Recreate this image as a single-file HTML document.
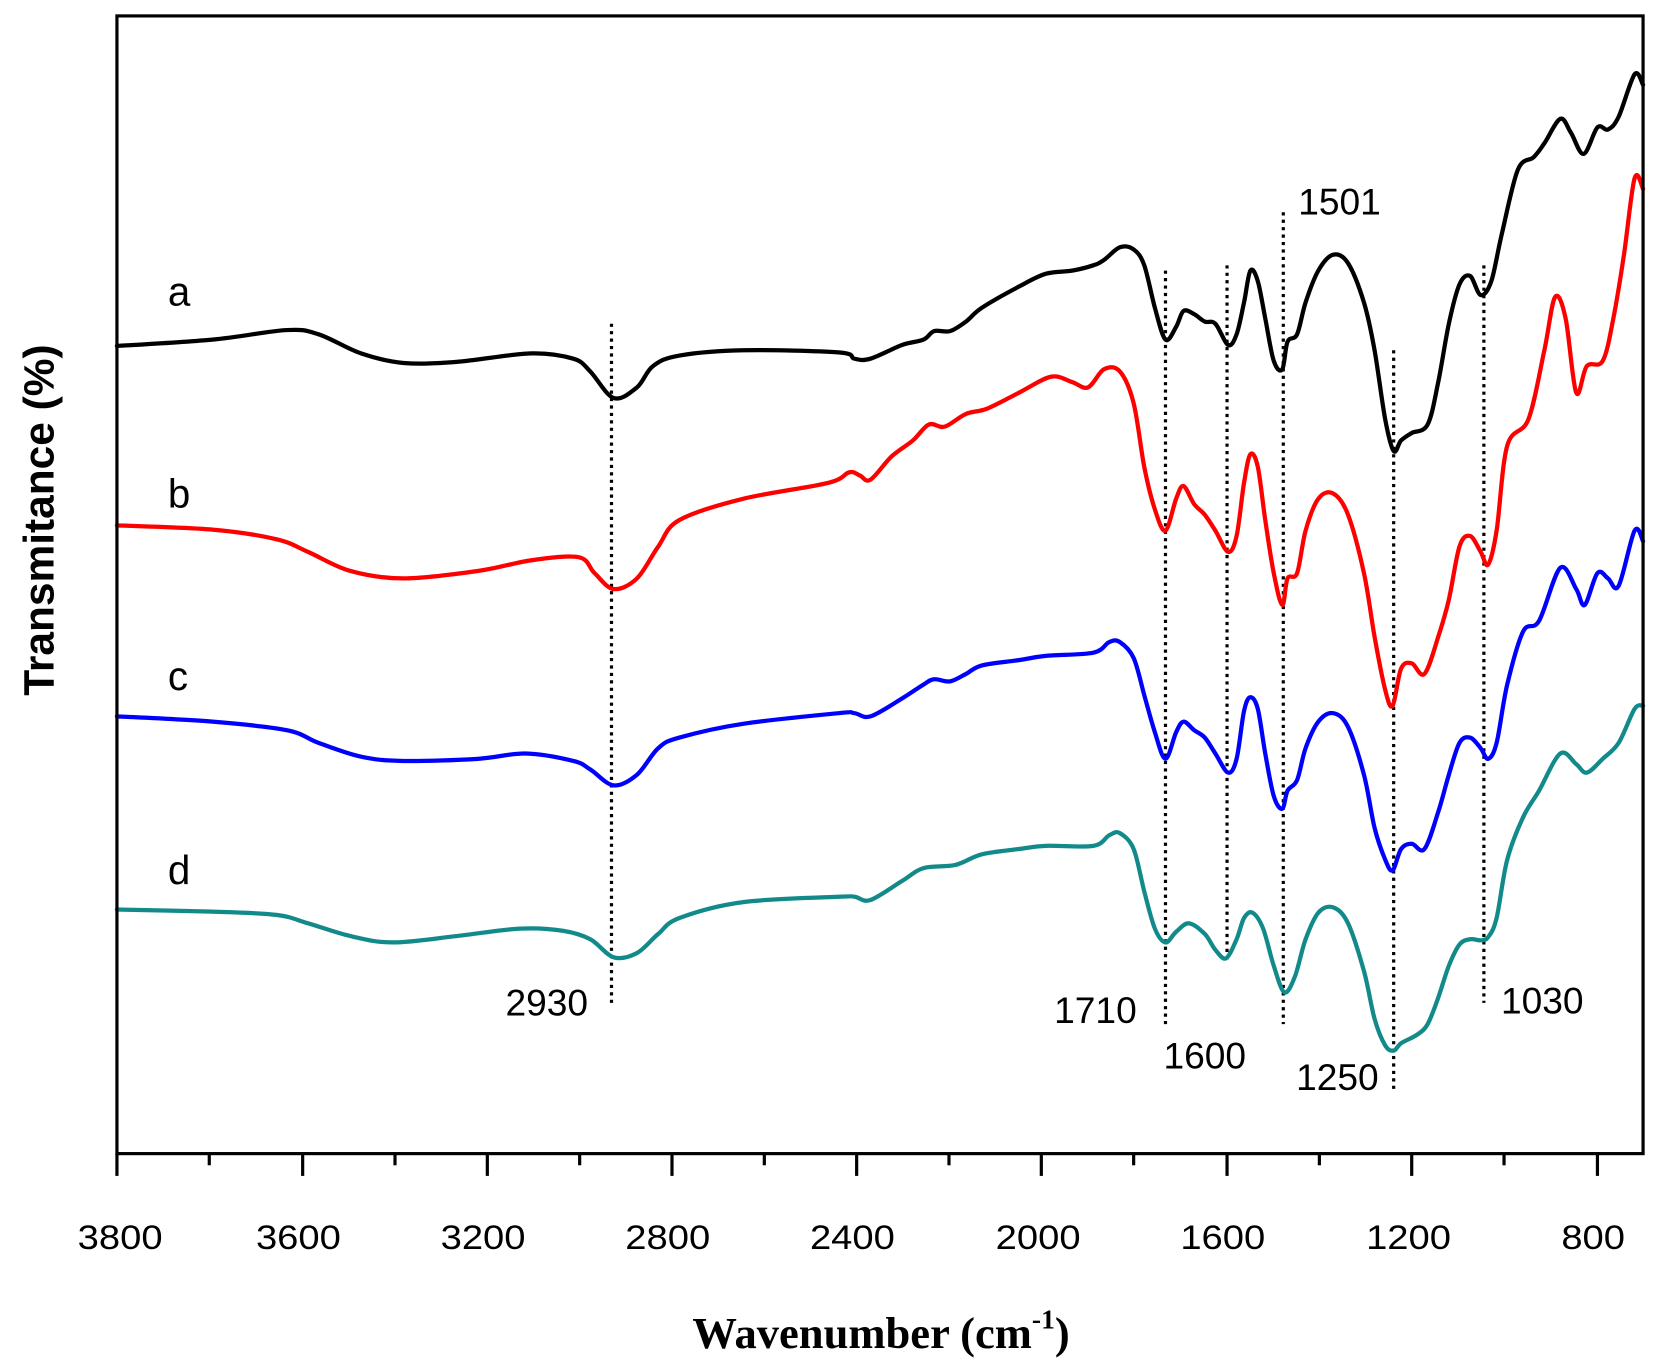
<!DOCTYPE html>
<html><head><meta charset="utf-8"><style>
html,body{margin:0;padding:0;background:#fff;}
svg{display:block;}
</style></head><body>
<svg id="s" width="1656" height="1368" viewBox="0 0 1560 1289" xmlns="http://www.w3.org/2000/svg">
<rect width="1560" height="1289" fill="#fff"/>
<g stroke="#000" stroke-width="3" stroke-dasharray="3,4" fill="none">
<line x1="576" y1="305" x2="576" y2="948"/>
<line x1="1098" y1="255" x2="1098" y2="965"/>
<line x1="1156" y1="250" x2="1156" y2="905"/>
<line x1="1209" y1="200" x2="1209" y2="965"/>
<line x1="1313" y1="330" x2="1313" y2="1028"/>
<line x1="1398" y1="250" x2="1398" y2="945"/>
</g>
<g fill="none" stroke-width="4" stroke-linejoin="round" stroke-linecap="round">
<polyline class="c" stroke="#000" points="110,326 200,320 270,311 300,315 340,333 380,342 430,341 500,333 540,338 556,350 578,375 600,365 615,345 640,335 700,330 790,332 805,338 820,338 850,325 870,320 880,312 895,312 910,303 925,290 960,270 985,258 1010,255 1030,250 1040,245 1055,233 1068,235 1078,250 1088,290 1098,320 1108,308 1115,293 1125,296 1135,303 1145,305 1157,325 1165,315 1172,285 1178,255 1185,265 1192,300 1200,340 1208,348 1213,322 1222,315 1230,285 1242,255 1256,240 1270,248 1285,285 1295,330 1305,395 1313,425 1320,415 1330,408 1345,400 1355,360 1365,305 1375,268 1385,260 1395,278 1405,265 1415,220 1430,160 1445,148 1455,135 1470,112 1480,125 1492,145 1505,120 1515,122 1525,110 1540,70 1548,80"/>
<polyline class="c" stroke="#ff0000" points="110,495 200,499 260,508 290,520 330,538 380,545 450,538 500,528 545,525 560,540 578,555 600,545 620,515 640,490 700,470 780,455 800,445 810,448 820,452 840,430 860,415 875,400 890,402 910,390 930,385 960,370 990,355 1010,360 1025,365 1040,348 1055,350 1068,380 1078,440 1088,480 1098,500 1108,470 1115,458 1125,475 1135,485 1145,500 1157,520 1165,505 1172,455 1178,428 1185,440 1192,490 1200,540 1208,570 1213,545 1222,540 1230,500 1242,470 1256,465 1270,485 1285,540 1295,600 1305,650 1312,665 1320,630 1330,625 1342,635 1355,600 1365,565 1375,515 1385,505 1395,520 1402,532 1410,500 1420,420 1440,395 1455,330 1465,280 1475,300 1485,370 1495,345 1510,340 1520,300 1530,240 1540,168 1548,178"/>
<polyline class="c" stroke="#0000ff" points="110,675 200,680 270,688 300,700 340,713 380,717 450,715 495,710 540,717 556,725 578,740 600,730 620,705 640,695 700,682 790,672 805,672 820,675 850,658 870,645 880,640 895,642 910,635 925,627 960,622 985,618 1030,615 1045,605 1055,605 1068,620 1078,655 1088,690 1098,715 1108,690 1115,680 1125,688 1135,695 1145,710 1157,728 1165,715 1172,670 1178,657 1185,668 1192,710 1200,750 1208,762 1213,745 1222,735 1230,705 1242,680 1256,672 1270,685 1285,730 1295,780 1305,810 1312,820 1320,800 1330,795 1342,800 1355,765 1365,730 1375,700 1385,695 1395,705 1402,715 1410,700 1420,645 1435,595 1450,585 1470,535 1485,555 1493,570 1505,540 1515,545 1525,552 1540,500 1548,510"/>
<polyline class="c" stroke="#138a8a" points="110,857 200,859 260,862 290,870 330,882 370,888 430,882 490,875 530,877 556,885 578,902 600,898 620,880 640,865 700,850 790,845 805,845 820,848 850,830 870,818 900,815 925,805 960,800 985,797 1030,797 1045,787 1055,785 1068,800 1078,840 1088,875 1098,888 1108,878 1120,870 1135,880 1145,895 1155,903 1165,885 1172,865 1180,860 1190,875 1200,910 1210,935 1220,920 1230,885 1242,860 1256,855 1270,870 1285,915 1295,960 1305,985 1313,990 1320,983 1335,975 1345,965 1355,940 1365,910 1375,890 1385,885 1395,886 1402,883 1410,865 1420,810 1435,770 1450,745 1470,710 1485,720 1495,728 1510,715 1525,700 1540,668 1548,665"/>
</g>
<rect x="110" y="15" width="1438" height="1072" fill="none" stroke="#000" stroke-width="3"/>
<g stroke="#000" stroke-width="3">
<line x1="110" y1="1087" x2="110" y2="1108"/><line x1="197" y1="1087" x2="197" y2="1098"/>
<line x1="285" y1="1087" x2="285" y2="1108"/><line x1="372" y1="1087" x2="372" y2="1098"/>
<line x1="459" y1="1087" x2="459" y2="1108"/><line x1="546" y1="1087" x2="546" y2="1098"/>
<line x1="633" y1="1087" x2="633" y2="1108"/><line x1="720" y1="1087" x2="720" y2="1098"/>
<line x1="807" y1="1087" x2="807" y2="1108"/><line x1="894" y1="1087" x2="894" y2="1098"/>
<line x1="981" y1="1087" x2="981" y2="1108"/><line x1="1068" y1="1087" x2="1068" y2="1098"/>
<line x1="1156" y1="1087" x2="1156" y2="1108"/><line x1="1243" y1="1087" x2="1243" y2="1098"/>
<line x1="1330" y1="1087" x2="1330" y2="1108"/><line x1="1417" y1="1087" x2="1417" y2="1098"/>
<line x1="1505" y1="1087" x2="1505" y2="1108"/>
</g>
<g font-family="Liberation Sans, sans-serif" font-size="32" text-anchor="middle" fill="#000">
<text x="113" y="1177" textLength="80" lengthAdjust="spacingAndGlyphs">3800</text>
<text x="281" y="1177" textLength="80" lengthAdjust="spacingAndGlyphs">3600</text>
<text x="455" y="1177" textLength="80" lengthAdjust="spacingAndGlyphs">3200</text>
<text x="629" y="1177" textLength="80" lengthAdjust="spacingAndGlyphs">2800</text>
<text x="803" y="1177" textLength="80" lengthAdjust="spacingAndGlyphs">2400</text>
<text x="978" y="1177" textLength="80" lengthAdjust="spacingAndGlyphs">2000</text>
<text x="1152" y="1177" textLength="80" lengthAdjust="spacingAndGlyphs">1600</text>
<text x="1327" y="1177" textLength="80" lengthAdjust="spacingAndGlyphs">1200</text>
<text x="1501" y="1177" textLength="60" lengthAdjust="spacingAndGlyphs">800</text>
</g>
<g font-family="Liberation Sans, sans-serif" font-size="38" fill="#000">
<text x="158" y="288">a</text>
<text x="158" y="478">b</text>
<text x="158" y="650">c</text>
<text x="158" y="833">d</text>
</g>
<g font-family="Liberation Sans, sans-serif" font-size="35" fill="#000" text-anchor="middle">
<text x="515" y="957">2930</text>
<text x="1032" y="964">1710</text>
<text x="1135" y="1007">1600</text>
<text x="1260" y="1027">1250</text>
<text x="1453" y="955">1030</text>
<text x="1262" y="202">1501</text>
</g>
<text x="830" y="1270" font-family="Liberation Serif, serif" font-weight="bold" font-size="42" text-anchor="middle">Wavenumber (cm<tspan dy="-18" font-size="26">-1</tspan><tspan dy="18">)</tspan></text>
<text transform="translate(50,490) rotate(-90)" font-family="Liberation Sans, sans-serif" font-weight="bold" font-size="40" text-anchor="middle">Transmitance (%)</text>
</svg>
<script>
(function(){
var ns="http://www.w3.org/2000/svg";
var pls=document.querySelectorAll("polyline.c");
for(var k=0;k<pls.length;k++){
var pl=pls[k];
var pts=pl.getAttribute("points").trim().split(/\s+/).map(function(s){var a=s.split(",");return [+a[0],+a[1]];});
var d="M"+pts[0][0]+","+pts[0][1];
for(var i=0;i<pts.length-1;i++){
var p0=pts[i-1]||pts[i],p1=pts[i],p2=pts[i+1],p3=pts[i+2]||p2;
var c1x=p1[0]+(p2[0]-p0[0])/6,c1y=p1[1]+(p2[1]-p0[1])/6;
var c2x=p2[0]-(p3[0]-p1[0])/6,c2y=p2[1]-(p3[1]-p1[1])/6;
d+=" C"+c1x.toFixed(1)+","+c1y.toFixed(1)+" "+c2x.toFixed(1)+","+c2y.toFixed(1)+" "+p2[0]+","+p2[1];
}
var p=document.createElementNS(ns,"path");
p.setAttribute("d",d);
p.setAttribute("stroke",pl.getAttribute("stroke"));
pl.parentNode.replaceChild(p,pl);
}
})();
</script>
</body></html>
